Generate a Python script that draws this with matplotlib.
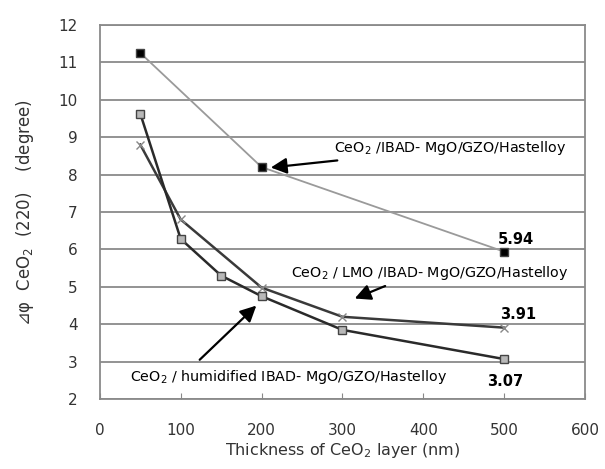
import matplotlib.pyplot as plt

# Datos
x_ibad = [50, 200, 500]
y_ibad = [11.25, 8.2, 5.94]

x_hum = [50, 100, 150, 200, 300, 500]
y_hum = [9.63, 6.28, 5.3, 4.75, 3.85, 3.07]

x_lmo = [50, 100, 200, 300, 500]
y_lmo = [8.8, 6.8, 4.98, 4.2, 3.91]

yticks = list(range(2, 13))
xticks = list(range(0, 601, 100))

plt.rcParams['font.family'] = ['DejaVu Sans', 'Noto Sans CJK JP']

fig = plt.figure(figsize=(6.05, 4.69), dpi=100)
ax = fig.add_axes([0.165, 0.149, 0.802, 0.798])

# Líneas de rejilla horizontales
for yt in yticks:
    ax.axhline(yt, color='#8a8a8a', linewidth=1.3, zorder=0)

ax.plot(x_ibad, y_ibad, color='#9a9a9a', linewidth=1.3, marker='s', markersize=5.5,
        markerfacecolor='black', markeredgecolor='#444444', zorder=3)
ax.plot(x_lmo, y_lmo, color='#3a3a3a', linewidth=1.8, marker='x', markersize=6,
        markeredgecolor='#888888', zorder=3)
ax.plot(x_hum, y_hum, color='#2a2a2a', linewidth=1.8, marker='s', markersize=5.5,
        markerfacecolor='#b8b8b8', markeredgecolor='#444444', zorder=4)

ax.set_xlim(0, 600)
ax.set_ylim(2, 12)
ax.set_xticks(xticks)
ax.set_yticks(yticks)
ax.tick_params(axis='x', direction='in', length=4, color='#888888', labelsize=11,
               labelcolor='#333333', pad=17)
ax.tick_params(axis='y', length=0, labelsize=11, labelcolor='#333333', pad=16)
for s in ax.spines.values():
    s.set_color('#8a8a8a')
    s.set_linewidth(1.3)

ax.set_xlabel('Thickness of CeO$_2$ layer (nm)', fontsize=11.5, color='#333333', labelpad=2)
ax.set_ylabel('⊿φ  CeO$_2$  (220)    (degree)', fontsize=12, color='#333333', labelpad=16)

flecha = dict(arrowstyle='-|>', color='black', lw=1.6, mutation_scale=24)

ax.annotate('CeO$_2$ /IBAD- MgO/GZO/Hastelloy', xy=(208, 8.18), xytext=(290, 8.7),
            fontsize=10.3, va='center', ha='left', arrowprops=flecha)
ax.annotate('CeO$_2$ / LMO /IBAD- MgO/GZO/Hastelloy', xy=(312, 4.66), xytext=(237, 5.36),
            fontsize=10.3, va='center', ha='left')
ax.annotate('', xy=(312, 4.66), xytext=(356, 5.05), arrowprops=flecha)
ax.annotate('CeO$_2$ / humidified IBAD- MgO/GZO/Hastelloy', xy=(195, 4.55), xytext=(37, 2.59),
            fontsize=10.3, va='center', ha='left')
ax.annotate('', xy=(196, 4.55), xytext=(121, 3.0), arrowprops=flecha)

ax.text(515, 6.27, '5.94', fontsize=10.5, fontweight='bold', ha='center', va='center')
ax.text(517, 4.26, '3.91', fontsize=10.5, fontweight='bold', ha='center', va='center')
ax.text(501, 2.48, '3.07', fontsize=10.5, fontweight='bold', ha='center', va='center')

fig.savefig('out.png', dpi=100)
